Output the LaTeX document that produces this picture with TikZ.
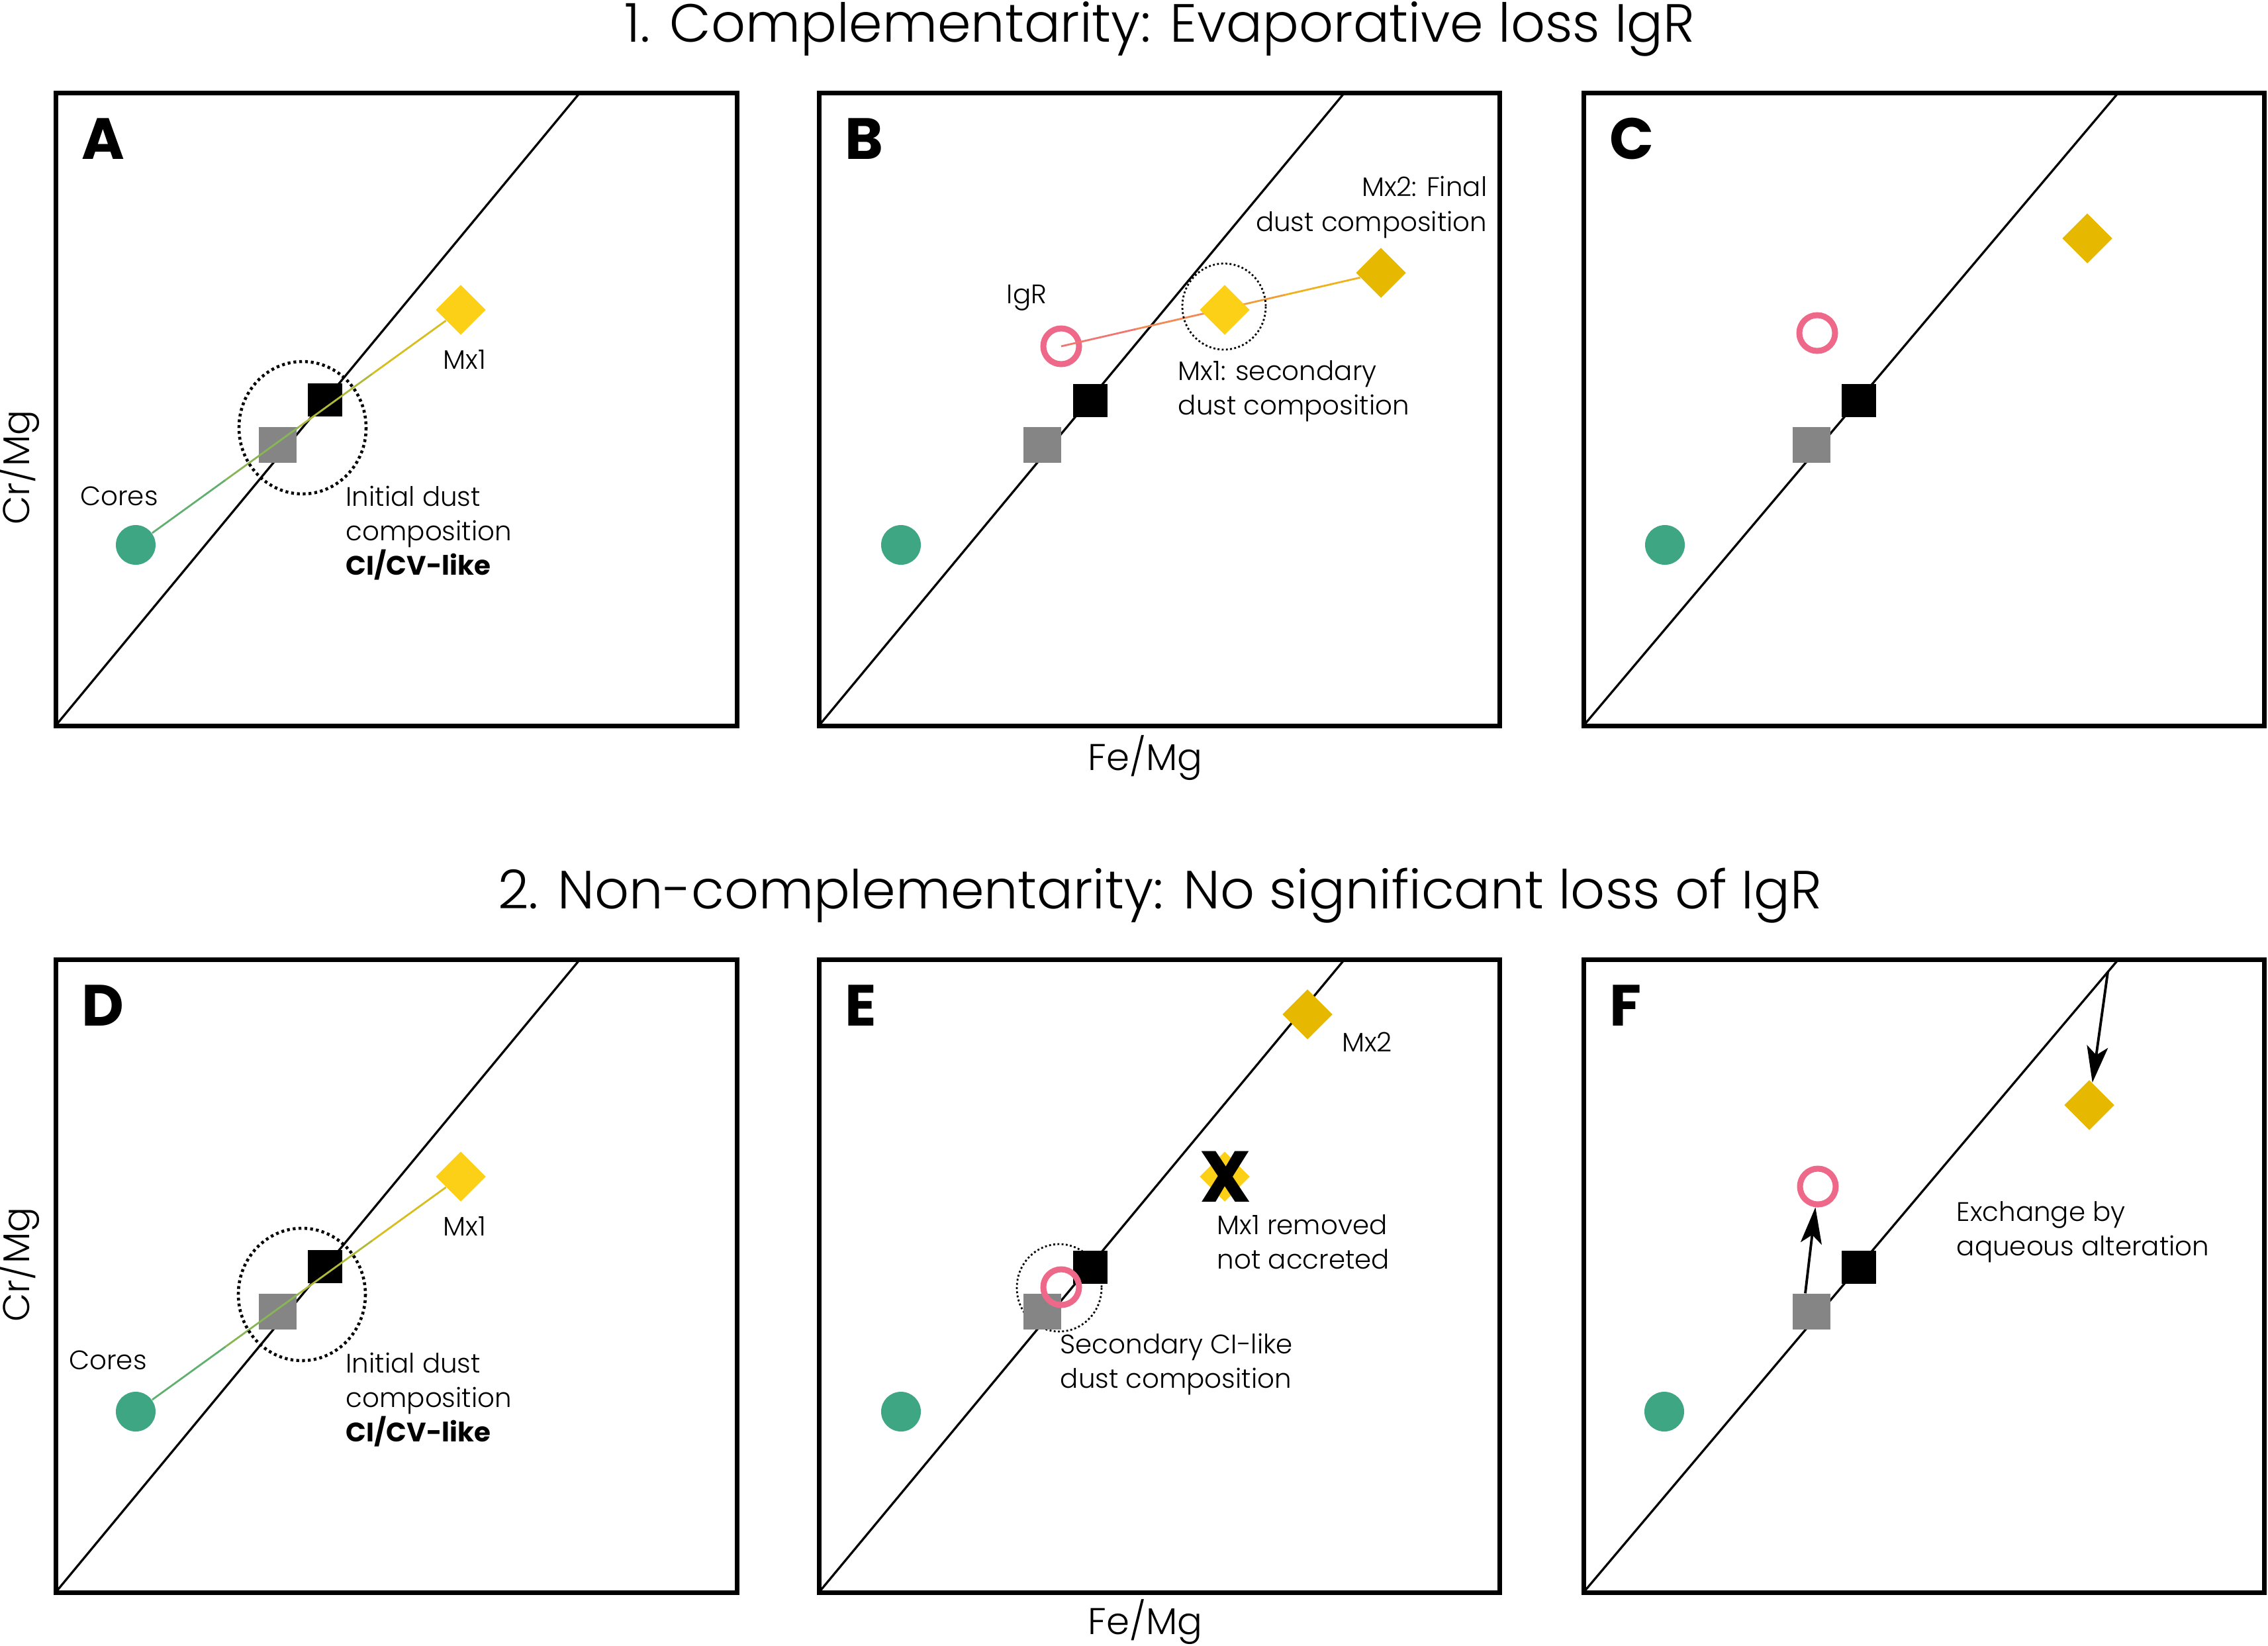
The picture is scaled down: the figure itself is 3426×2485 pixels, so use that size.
\documentclass[tikz,border=0pt]{standalone}
\usepackage{fontspec}
\setmainfont{Poppins}[UprightFont={* Light}, BoldFont={* Bold}]
\usetikzlibrary{arrows.meta, shapes.geometric}

\definecolor{coregreen}{RGB}{63,166,132}
\definecolor{sqgray}{RGB}{133,133,133}
\definecolor{mxyellow}{RGB}{252,208,22}
\definecolor{mxgold}{RGB}{230,185,0}
\definecolor{igrpink}{RGB}{238,104,138}
\definecolor{linkgreen}{RGB}{98,176,112}
\definecolor{linkyellow}{RGB}{214,190,30}
\definecolor{linkpink}{RGB}{242,118,112}
\definecolor{linkorange}{RGB}{238,178,28}

\begin{document}
\begin{tikzpicture}[x=0.1mm, y=-0.1mm,
  frame/.style={line width=0.7mm},
  diag/.style={line width=0.33mm},
  link/.style={line width=0.8pt},
  halo/.style={line width=1.3pt, dash pattern=on 1.2pt off 1.3pt},
  halosmall/.style={line width=0.8pt, dash pattern=on 0.8pt off 1pt},
  core/.style={circle, fill=coregreen, minimum size=6mm, inner sep=0pt},
  graysq/.style={rectangle, fill=sqgray, minimum width=5.7mm, minimum height=5.4mm, inner sep=0pt},
  blacksq/.style={rectangle, fill=black, minimum width=5.2mm, minimum height=5mm, inner sep=0pt},
  mxone/.style={diamond, fill=mxyellow, minimum width=7.6mm, minimum height=7.6mm, inner sep=0pt},
  mxtwo/.style={diamond, fill=mxgold, minimum width=7.6mm, minimum height=7.6mm, inner sep=0pt},
  igr/.style={circle, draw=igrpink, line width=0.9mm, minimum size=5.4mm, inner sep=0pt},
  lbl/.style={inner sep=0pt, align=left, font=\fontsize{11.5}{14.8}\selectfont},
  tag/.style={inner sep=0pt, anchor=base west, font=\fontsize{25}{30}\selectfont\bfseries},
  axis/.style={inner sep=0pt, anchor=base, font=\fontsize{16}{19}\selectfont},
  heading/.style={inner sep=0pt, anchor=base, font=\fontsize{23.1}{27}\selectfont},
  exchange/.style={line width=1.1pt, -{Stealth[length=5.5mm, width=3.2mm, inset=1.3mm]}}]

\useasboundingbox (0,0) rectangle (3426,2485);

% titles and axes
\node[heading] (title1) at (1752,63) {1. Complementarity: Evaporative loss IgR};
\node[heading] (title2) at (1752,1372) {2. Non-complementarity: No significant loss of IgR};
\node[axis] (xaxis1) at (1730,1163) {Fe/Mg};
\node[axis] (xaxis2) at (1730,2468) {Fe/Mg};
\node[axis, rotate=90] (yaxis1) at (45,706) {Cr/Mg};
\node[axis, rotate=90] (yaxis2) at (45,1910) {Cr/Mg};

% A
\begin{scope}[shift={(84,140)}]
\draw[frame] (0,0) rectangle (1029,956);
\draw[diag] (0,956) -- (792,0);
\node[tag] (tagA) at (39,100) {A};
\node[graysq] (grayA) at (335,532) {};
\node[blacksq] (blackA) at (407,464) {};
\node[core] (coreA) at (121,683) {};
\node[mxone] (mxA) at (612,328) {};
\path (coreA) -- (mxA) coordinate[pos=0] (cA0) coordinate[pos=0.25] (cA1)
  coordinate[pos=0.5] (cA2) coordinate[pos=0.75] (cA3) coordinate[pos=1] (cA4);
\draw[link, linkgreen] (cA0) -- (cA1);
\draw[link, linkgreen!67!linkyellow] (cA1) -- (cA2);
\draw[link, linkgreen!33!linkyellow] (cA2) -- (cA3);
\draw[link, linkyellow] (cA3) -- (cA4);
\draw[halo] (373,506) ellipse [x radius=96, y radius=100];
\node[lbl] (coresA) at (96,609) {Cores};
\node[lbl] (mxlabA) at (618,403) {Mx1};
\node[lbl, anchor=west] (initA) at (438,665) {Initial dust\\composition\\\textbf{CI/CV-like}};
\end{scope}

% B
\begin{scope}[shift={(1237,140)}]
\draw[frame] (0,0) rectangle (1028,956);
\draw[diag] (0,956) -- (794,0);
\node[tag] (tagB) at (39,100) {B};
\node[graysq] (grayB) at (337,532) {};
\node[blacksq] (blackB) at (410,465) {};
\node[core] (coreB) at (124,683) {};
\node[igr] (igrB) at (366,383) {};
\node[mxtwo] (mx2B) at (849,272) {};
\path (igrB.center) -- (mx2B) coordinate[pos=0] (cB0) coordinate[pos=0.25] (cB1)
  coordinate[pos=0.5] (cB2) coordinate[pos=0.75] (cB3) coordinate[pos=1] (cB4);
\draw[link, linkpink] (cB0) -- (cB1);
\draw[link, linkpink!67!linkorange] (cB1) -- (cB2);
\draw[link, linkpink!33!linkorange] (cB2) -- (cB3);
\draw[link, linkorange] (cB3) -- (cB4);
\node[mxone] (mxB) at (613,328) {};
\draw[halosmall] (612,323) ellipse [x radius=63, y radius=65];
\node[lbl] (igrlabB) at (314,310) {IgR};
\node[lbl, anchor=west] (mxlabB) at (542,451) {Mx1: secondary\\dust composition};
\node[lbl, anchor=east, align=right] (mx2labB) at (1010,173) {Mx2: Final\\dust composition};
\end{scope}

% C
\begin{scope}[shift={(2392,140)}]
\draw[frame] (0,0) rectangle (1028,956);
\draw[diag] (0,956) -- (808,0);
\node[tag] (tagC) at (39,100) {C};
\node[graysq] (grayC) at (344,532) {};
\node[blacksq] (blackC) at (416,465) {};
\node[core] (coreC) at (123,683) {};
\node[igr] (igrC) at (353,363) {};
\node[mxtwo] (mx2C) at (761,220) {};
\end{scope}

% D
\begin{scope}[shift={(84,1449)}]
\draw[frame] (0,0) rectangle (1029,956);
\draw[diag] (0,956) -- (792,0);
\node[tag] (tagD) at (39,100) {D};
\node[graysq] (grayD) at (335,532) {};
\node[blacksq] (blackD) at (407,464) {};
\node[core] (coreD) at (121,683) {};
\node[mxone] (mxD) at (612,328) {};
\path (coreD) -- (mxD) coordinate[pos=0] (cD0) coordinate[pos=0.25] (cD1)
  coordinate[pos=0.5] (cD2) coordinate[pos=0.75] (cD3) coordinate[pos=1] (cD4);
\draw[link, linkgreen] (cD0) -- (cD1);
\draw[link, linkgreen!67!linkyellow] (cD1) -- (cD2);
\draw[link, linkgreen!33!linkyellow] (cD2) -- (cD3);
\draw[link, linkyellow] (cD3) -- (cD4);
\draw[halo] (372,506) ellipse [x radius=96, y radius=100];
\node[lbl] (coresD) at (79,605) {Cores};
\node[lbl] (mxlabD) at (618,403) {Mx1};
\node[lbl, anchor=west] (initD) at (438,665) {Initial dust\\composition\\\textbf{CI/CV-like}};
\end{scope}

% E
\begin{scope}[shift={(1237,1449)}]
\draw[frame] (0,0) rectangle (1028,956);
\draw[diag] (0,956) -- (794,0);
\node[tag] (tagE) at (39,100) {E};
\draw[halosmall] (363,496) ellipse [x radius=64, y radius=66];
\node[graysq] (grayE) at (337,532) {};
\node[blacksq] (blackE) at (410,465) {};
\node[core] (coreE) at (124,683) {};
\node[igr] (igrE) at (366,495) {};
\node[mxtwo] (mx2E) at (738,83) {};
\node[mxone] (mxE) at (613,328) {};
\node[inner sep=0pt, font=\fontsize{31}{34}\selectfont\bfseries] (crossE) at (614,328) {X};
\node[lbl] (mx2labE) at (828,125) {Mx2};
\node[lbl, anchor=west] (removedE) at (601,427) {Mx1 removed\\not accreted};
\node[lbl, anchor=west] (secondE) at (364,611) {Secondary CI-like\\dust composition};
\end{scope}

% F
\begin{scope}[shift={(2392,1449)}]
\draw[frame] (0,0) rectangle (1028,956);
\draw[diag] (0,956) -- (808,0);
\node[tag] (tagF) at (39,100) {F};
\node[graysq] (grayF) at (344,532) {};
\node[blacksq] (blackF) at (416,465) {};
\node[core] (coreF) at (122,683) {};
\node[igr] (igrF) at (354,343) {};
\node[mxtwo] (mx2F) at (764,220) {};
\coordinate (topF) at (792,19);
\draw[exchange] ([xshift=-0.9mm]grayF.north) -- (igrF);
\draw[exchange] (topF) -- (mx2F);
\node[lbl, anchor=west] (exchF) at (563,412) {Exchange by\\aqueous alteration};
\end{scope}

\end{tikzpicture}
\end{document}
